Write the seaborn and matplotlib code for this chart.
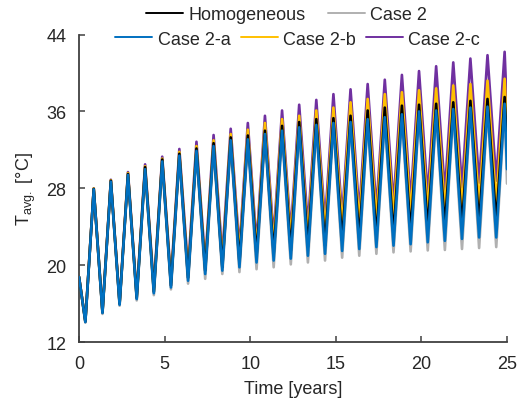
import numpy as np
import pandas as pd
import matplotlib
matplotlib.use("Agg")
import matplotlib.pyplot as plt
import seaborn as sns
from matplotlib.lines import Line2D

# Yearly extremes (troughs near k+0.37, peaks near k+0.86)
trough_times = np.arange(25) + 0.37
peak_times = np.arange(25) + 0.86
start_time, end_time = 0.0, 25.0

homog_troughs = [14.15, 15.1, 16.0, 16.6, 17.25, 17.9, 18.7, 19.45, 19.8, 20.3, 21.0, 21.2, 21.5,
                 21.9, 22.05, 22.55, 22.75, 22.9, 23.1, 23.4, 23.8, 24.0, 24.1, 24.3, 24.5]
homog_peaks = [27.95, 28.8, 29.5, 30.2, 31.0, 31.6, 32.15, 32.7, 33.3, 33.5, 34.0, 34.5, 34.9,
               35.2, 35.3, 35.55, 36.1, 36.4, 36.6, 36.7, 36.8, 36.95, 37.1, 37.3, 37.5]

case2_troughs = [14.05, 14.95, 15.8, 16.35, 16.9, 17.5, 18.1, 18.6, 19.1, 19.3, 19.6, 19.8, 20.1,
                 20.3, 20.5, 20.8, 21.0, 21.2, 21.35, 21.45, 21.55, 21.6, 21.7, 21.8, 21.9]
case2_peaks = [27.8, 28.6, 29.3, 29.9, 30.6, 31.2, 31.7, 32.2, 32.7, 32.9, 33.4, 33.7, 34.0,
               34.3, 34.5, 34.6, 34.9, 35.1, 35.3, 35.6, 35.7, 35.9, 36.0, 36.1, 36.4]

case2a_troughs = [14.1, 15.05, 15.9, 16.5, 17.1, 17.7, 18.4, 19.1, 19.45, 19.8, 20.3, 20.5, 20.7,
                  21.0, 21.2, 21.5, 21.7, 21.9, 22.05, 22.2, 22.4, 22.55, 22.75, 22.9, 22.9]
case2a_peaks = [27.9, 28.7, 29.4, 30.0, 30.8, 31.4, 31.9, 32.4, 33.0, 33.1, 33.65, 34.0, 34.35,
                34.6, 34.8, 34.9, 35.2, 35.4, 35.7, 36.0, 36.1, 36.25, 36.4, 36.5, 36.8]

case2b_troughs = [14.2, 15.15, 16.05, 16.7, 17.4, 18.2, 19.1, 19.8, 20.3, 21.0, 21.5, 22.05, 22.6,
                  22.9, 23.4, 24.0, 24.3, 24.65, 25.0, 25.35, 25.5, 25.7, 25.85, 26.2, 26.4]
case2b_peaks = [28.0, 28.85, 29.6, 30.3, 31.1, 31.8, 32.4, 33.0, 33.65, 34.1, 34.8, 35.2, 35.55,
                36.1, 36.4, 36.95, 37.3, 37.8, 38.0, 38.2, 38.4, 38.7, 38.85, 39.2, 39.4]

case2c_troughs = [14.25, 15.25, 16.15, 16.9, 17.7, 18.5, 19.6, 20.25, 21.0, 21.7, 22.2, 22.9, 23.4,
                  24.1, 24.5, 25.0, 25.5, 25.85, 26.4, 26.7, 27.25, 27.6, 28.1, 28.6, 28.8]
case2c_peaks = [28.0, 28.9, 29.7, 30.5, 31.3, 32.1, 32.85, 33.55, 34.2, 34.8, 35.55, 36.1, 36.7,
                37.2, 37.8, 38.3, 38.85, 39.3, 39.8, 40.2, 40.7, 41.1, 41.5, 41.85, 42.2]

start_values = {"Homogeneous": 18.8, "Case 2": 18.8, "Case 2-a": 18.8, "Case 2-b": 18.8, "Case 2-c": 18.8}
end_values = {"Homogeneous": 32.5, "Case 2": 28.5, "Case 2-a": 30.0, "Case 2-b": 33.1, "Case 2-c": 36.0}

series = {
    "Homogeneous": (homog_troughs, homog_peaks),
    "Case 2": (case2_troughs, case2_peaks),
    "Case 2-a": (case2a_troughs, case2a_peaks),
    "Case 2-b": (case2b_troughs, case2b_peaks),
    "Case 2-c": (case2c_troughs, case2c_peaks),
}
colors = {"Homogeneous": "#000000", "Case 2": "#B0B0B0", "Case 2-a": "#0070C0",
          "Case 2-b": "#FFC000", "Case 2-c": "#7030A0"}

# long table: start, alternating trough/peak, end
rows = []
for name, (troughs, peaks) in series.items():
    rows.append((name, start_time, start_values[name]))
    for tt, tv, pt, pv in zip(trough_times, troughs, peak_times, peaks):
        rows.append((name, tt, tv))
        rows.append((name, pt, pv))
    rows.append((name, end_time, end_values[name]))
df = pd.DataFrame(rows, columns=["case", "time", "temp"])

sns.set_style("ticks")
plt.rcParams["font.family"] = ["Liberation Sans", "DejaVu Sans"]
plt.rcParams["mathtext.default"] = "regular"

fig = plt.figure(figsize=(5.24, 4.10), dpi=100)
ax = fig.add_axes([0.1508, 0.1627, 0.8168, 0.7507])

# drawing order (back to front)
draw_order = ["Case 2", "Case 2-c", "Case 2-b", "Homogeneous", "Case 2-a"]
for i, name in enumerate(draw_order):
    sns.lineplot(data=df[df["case"] == name], x="time", y="temp", color=colors[name],
                 linewidth=1.9, estimator=None, sort=True, ax=ax, zorder=2 + i)

ax.set_xlim(0, 25)
ax.set_ylim(12, 44)
ax.set_xticks([0, 5, 10, 15, 20, 25])
ax.set_yticks([12, 20, 28, 36, 44])
ax.set_xlabel("Time [years]", fontsize=13, labelpad=6)
ax.set_ylabel(r"T$_{avg.}$ [°C]", fontsize=13, labelpad=6)
ax.tick_params(direction="in", length=4, width=1.1, labelsize=13, pad=9, color="#404040")
for side in ["top", "right"]:
    ax.spines[side].set_visible(False)
for side in ["left", "bottom"]:
    ax.spines[side].set_color("#404040")
    ax.spines[side].set_linewidth(1.3)

def handle(name):
    return Line2D([], [], color=colors[name], linewidth=1.4)

row1 = ["Homogeneous", "Case 2"]
row2 = ["Case 2-a", "Case 2-b", "Case 2-c"]
fig.legend([handle(n) for n in row1], row1, loc="center", bbox_to_anchor=(0.547, 0.961),
           ncol=2, frameon=False, fontsize=13, handlelength=2.05, handletextpad=0.3,
           columnspacing=1.2, borderpad=0.1)
fig.legend([handle(n) for n in row2], row2, loc="center", bbox_to_anchor=(0.568, 0.902),
           ncol=3, frameon=False, fontsize=13, handlelength=2.05, handletextpad=0.3,
           columnspacing=0.55, borderpad=0.1)

fig.savefig("out.png", dpi=100)
